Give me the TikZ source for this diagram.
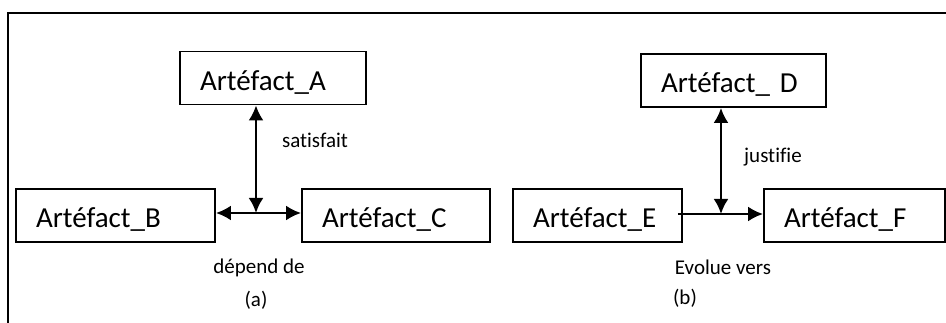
\documentclass[tikz,border=0pt]{standalone}
\usepackage{fontspec}
\setmainfont{Carlito}[Ligatures=CommonOff]
\usetikzlibrary{arrows.meta,positioning,calc}

\begin{document}
\begin{tikzpicture}[
    x=1pt, y=-1pt,
    >={Latex[length=15pt,width=15pt]},
    box/.style={draw, line width=1.8pt, minimum height=53pt, inner xsep=20pt, inner ysep=0,
        text height=25pt, text depth=0pt, align=left, text width=#1, font=\fontsize{29}{32}\selectfont},
    rel/.style={line width=2.6pt},
    lbl/.style={inner sep=0, font=\fontsize{21}{24}\selectfont}]
\useasboundingbox (0,0) rectangle (946,323);
\draw[line width=1.8pt] (8,323) -- (8,13) -- (946,13);

\node[box=146pt] (A) at (273,78)    {Artéfact\_A};
\node[box=159pt] (B) at (115.5,215.5) {Artéfact\_B};
\node[box=148pt] (C) at (396,215.5)   {Artéfact\_C};
\node[box=145pt] (D) at (733.5,80.5)  {Artéfact\_ D};
\node[box=129pt] (E) at (597.5,215.5) {Artéfact\_E};
\node[box=141pt] (F) at (854.5,215.5) {Artéfact\_F};

\coordinate (ja) at (256,213);
\coordinate (jb) at (721,214);
\draw[rel, <->] (ja |- A.south) -- (ja);
\draw[rel, <->] (B.east |- ja) -- (C.west |- ja);
\draw[rel, <->] (jb |- D.south) -- (jb);
\draw[rel, ->] ($(E.east |- jb)+(-5,0)$) -- (F.west |- jb);

\node[lbl] (sat) at (315,140) {satisfait};
\node[lbl] (dep) at (259,268) {dépend de};
\node[lbl] (capa) at (256,300) {(a)};
\node[lbl] (jus) at (773,157) {justifie};
\node[lbl] (evo) at (723,267) {Evolue vers};
\node[lbl] (capb) at (685,298) {(b)};
\end{tikzpicture}
\end{document}
